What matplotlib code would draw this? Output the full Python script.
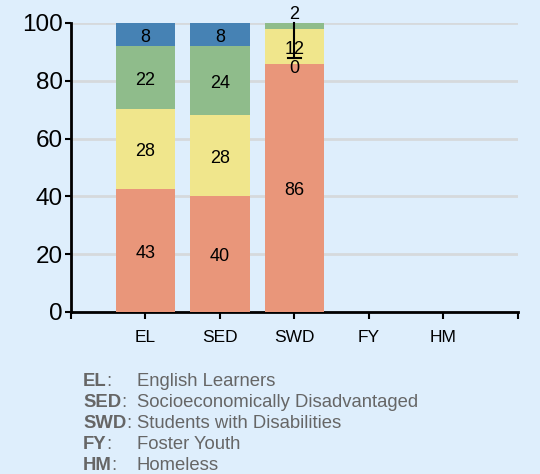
import matplotlib
matplotlib.use('Agg')
import matplotlib.pyplot as plt
import numpy as np

plt.rcParams['font.family'] = ['Liberation Sans', 'DejaVu Sans']

# --- data ---
groups = ['EL', 'SED', 'SWD', 'FY', 'HM']
red_vals = [42.6, 40.1, 85.8, 0, 0]
yellow_vals = [27.6, 28.0, 12.1, 0, 0]
green_vals = [21.8, 23.9, 2.1, 0, 0]
blue_vals = [8.0, 8.0, 0.0, 0, 0]
has_data = [True, True, True, False, False]

legend_abbr = ['EL', 'SED', 'SWD', 'FY', 'HM']
legend_text = ['English Learners', 'Socioeconomically Disadvantaged',
               'Students with Disabilities', 'Foster Youth', 'Homeless']

colors = ['#E9967A', '#F0E68C', '#8FBC8B', '#4682B4']
bg = '#DEEEFC'

fig = plt.figure(figsize=(5.4, 4.74), dpi=100, facecolor=bg)
ax = fig.add_axes([0.1315, 0.3418, 0.8275, 0.6097])
ax.set_facecolor(bg)

x = np.arange(len(groups))
series = [red_vals, yellow_vals, green_vals, blue_vals]
bottom = np.zeros(len(groups))
for vals, c in zip(series, colors):
    ax.bar(x, vals, 0.8, bottom=bottom, color=c, zorder=3)
    for i in range(len(groups)):
        if has_data[i] and vals[i] >= 5:
            ax.text(x[i], bottom[i] + vals[i] / 2 - 1, f'{round(vals[i]):d}',
                    ha='center', va='center', fontsize=13, zorder=5)
    bottom += np.array(vals)

# small segments of SWD: labels pulled out with a leader line
i = groups.index('SWD')
ax.plot([x[i], x[i]], [100, 88], color='black', lw=1.5, zorder=4, clip_on=False)
ax.plot([x[i] - 0.09, x[i] + 0.09], [88, 88], color='black', lw=1.5, zorder=4)
ax.text(x[i], 102.8, f'{round(green_vals[i]):d}', ha='center', va='center',
        fontsize=13, zorder=5, clip_on=False)
ax.text(x[i], 84.4, f'{round(blue_vals[i]):d}', ha='center', va='center',
        fontsize=13, zorder=5)

ax.set_xlim(-1, 5)
ax.set_ylim(0, 100)
ax.set_yticks(range(0, 101, 20))
ax.set_xticks(list(range(-1, 6)))
ax.set_xticklabels([''] + groups + [''])
ax.tick_params(axis='y', labelsize=17.5, length=4, width=1.5, pad=2)
ax.tick_params(axis='x', labelsize=12.5, length=5, width=1.5, pad=8)
ax.yaxis.grid(True, color='#D6D9DC', lw=2, zorder=1)
ax.set_axisbelow(True)
for s in ['top', 'right']:
    ax.spines[s].set_visible(False)
for s in ['left', 'bottom']:
    ax.spines[s].set_linewidth(2)

# abbreviation key under the chart
ys = [386, 407, 428, 449, 470]
fig.canvas.draw()
for abbr, txt, yp in zip(legend_abbr, legend_text, ys):
    fy = 1 - yp / 474
    t = fig.text(83 / 540, fy, abbr, fontsize=13.3, fontweight='bold',
                 color='#666666', va='baseline')
    bb = t.get_window_extent(renderer=fig.canvas.get_renderer())
    fig.text((bb.x1 - 0.3) / 540, fy, ':', fontsize=13.3, color='#666666',
             va='baseline')
    fig.text(137 / 540, fy, txt, fontsize=13.3, color='#666666', va='baseline')

fig.savefig('out.png', dpi=100, facecolor=bg)
